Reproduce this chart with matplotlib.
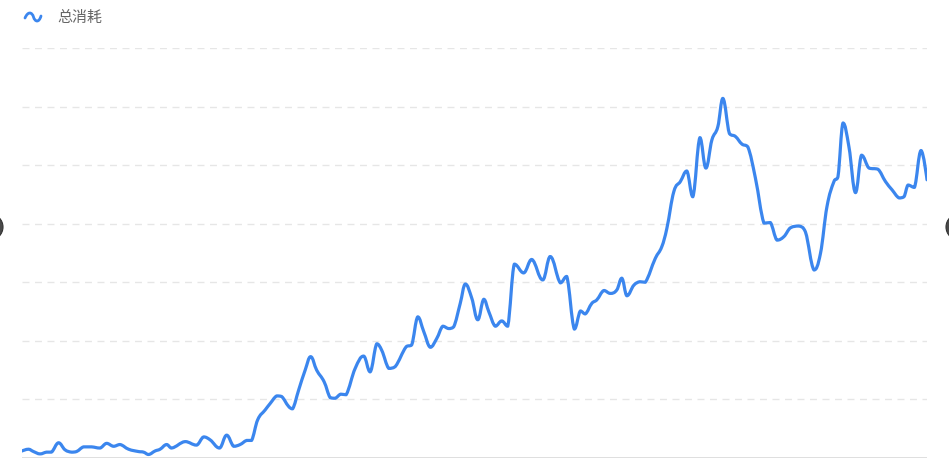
import matplotlib
matplotlib.use("Agg")
import matplotlib.pyplot as plt
from matplotlib.path import Path
from matplotlib.patches import PathPatch, Circle

plt.rcParams['font.family'] = ['Noto Sans CJK SC', 'DejaVu Sans']

# data (day index, total consumption)
series_name = "总消耗"
days = [0.0, 1.3, 2.3, 3.6, 4.9, 5.9, 7.3, 8.6, 9.9, 10.9, 12.3, 13.9, 15.6, 16.9, 18.3,
        19.6, 21.3, 23.3, 24.3, 25.3, 26.6, 27.6, 28.9, 29.9, 32.6, 34.9, 36.3, 37.6, 39.5,
        40.9, 42.3, 43.6, 44.9, 45.9, 47.1, 48.6, 49.6, 50.9, 51.9, 53.3, 54.1, 55.3, 56.6,
        57.7, 58.9, 60.4, 61.6, 62.6, 63.7, 64.8, 66.6, 68.3, 69.6, 70.9, 71.9, 73.3, 74.6,
        76.8, 77.9, 79.1, 80.3, 81.6, 82.9, 84.1, 85.3, 86.3, 87.6, 88.6, 89.9, 91.1, 92.3,
        93.3, 94.6, 95.9, 97.1, 98.4, 100.3, 101.9, 104.1, 105.6, 107.6, 108.9, 110.4, 111.6,
        112.6, 113.9, 114.9, 116.3, 117.6, 118.9, 119.9, 120.9, 122.3, 123.5, 124.6, 126.6,
        127.9, 128.9, 130.3, 131.6, 132.9, 134.1, 135.5, 136.7, 137.9, 139.1, 140.1, 141.4,
        142.6, 143.9, 145.1, 146.6, 148.3, 149.6, 150.9, 152.3, 153.6, 155.3, 156.6, 158.3,
        159.6, 160.9, 162.3, 163.1, 164.1, 165.3, 166.6, 167.8, 169.3, 171.1, 172.6, 173.9,
        175.3, 176.3, 177.1, 178.4, 179.7, 180.9]
values = [12, 15, 11, 7, 10, 10, 26, 14, 10, 11, 19, 19, 17, 25, 20,
          23, 15, 11, 10, 6, 12, 15, 23, 17, 28, 22, 36, 31, 17,
          39, 20, 23, 30, 30, 65, 82, 93, 106, 105, 88, 84, 116, 150,
          173, 150, 130, 103, 102, 109, 108, 153, 174, 147, 195, 184, 153, 156,
          190, 193, 241, 216, 189, 204, 225, 221, 224, 264, 297, 273, 236, 271,
          250, 225, 234, 225, 331, 316, 339, 304, 344, 299, 310, 220, 251,
          246, 264, 270, 286, 281, 287, 307, 277, 295, 301, 300, 341,
          361, 392, 455, 472, 490, 446, 547, 495, 543, 566, 614, 554,
          549, 536, 531, 478, 401, 402, 372, 378, 393, 396, 386, 321,
          349, 429, 472, 480, 572, 531, 453, 517, 495, 493, 472, 458,
          444, 446, 466, 462, 525, 475]
y_ticks = [0, 100, 200, 300, 400, 500, 600, 700]

LINE_COLOR = '#3b86ee'


def smooth_path(xs, ys, smooth=0.4):
    """Bezier path through the points, echarts-like smoothing without overshoot."""
    n = len(xs)
    cp_prev = [(xs[i], ys[i]) for i in range(n)]
    cp_next = [(xs[i], ys[i]) for i in range(n)]
    for i in range(1, n - 1):
        vx = xs[i + 1] - xs[i - 1]
        vy = ys[i + 1] - ys[i - 1]
        d0 = xs[i] - xs[i - 1]
        d1 = xs[i + 1] - xs[i]
        r0 = d0 / (d0 + d1)
        r1 = 1 - r0
        py = ys[i] - vy * smooth * r0
        ny = ys[i] + vy * smooth * r1
        py = min(max(py, min(ys[i - 1], ys[i])), max(ys[i - 1], ys[i]))
        ny = min(max(ny, min(ys[i + 1], ys[i])), max(ys[i + 1], ys[i]))
        cp_prev[i] = (xs[i] - vx * smooth * r0, py)
        cp_next[i] = (xs[i] + vx * smooth * r1, ny)
    verts = [(xs[0], ys[0])]
    codes = [Path.MOVETO]
    for i in range(n - 1):
        verts += [cp_next[i], cp_prev[i + 1], (xs[i + 1], ys[i + 1])]
        codes += [Path.CURVE4] * 3
    return Path(verts, codes)


fig = plt.figure(figsize=(9.49, 4.64), dpi=100)
ax = fig.add_axes([22 / 949, 5 / 464, 905 / 949, 410 / 464])

ax.set_xlim(days[0], days[-1])
ax.set_ylim(y_ticks[0], y_ticks[-1])

# dashed grid lines + solid baseline
for t in y_ticks[1:]:
    ax.axhline(t, color='#e6e6e6', lw=1.0, ls=(0, (5, 4)), zorder=1)
ax.axhline(0, color='#d9d9d9', lw=1.2, zorder=1)

ax.add_patch(PathPatch(smooth_path(days, values), facecolor='none', edgecolor=LINE_COLOR,
                       lw=2.3, capstyle='round', joinstyle='round', zorder=3))

for s in ax.spines.values():
    s.set_visible(False)
ax.set_xticks([])
ax.set_yticks([])
ax.patch.set_alpha(0)


# legend: wavy icon + label (figure pixel coordinates, y measured from the top)
def fp(x, y):
    return (x / 100.0, (464 - y) / 100.0)


wave = Path([fp(25, 19), fp(28, 12), fp(32, 13), fp(33.5, 18),
             fp(35, 23), fp(39, 24), fp(41, 17)],
            [Path.MOVETO, Path.CURVE4, Path.CURVE4, Path.CURVE4,
             Path.CURVE4, Path.CURVE4, Path.CURVE4])
fig.patches.append(PathPatch(wave, transform=fig.dpi_scale_trans, facecolor='none',
                             edgecolor=LINE_COLOR, lw=2.0, capstyle='round'))
fig.text(57 / 949, 1 - 18 / 464, series_name, fontsize=10.8, color='#666666',
         va='center', ha='left')

# partially visible scroll buttons at both edges
for cx in (-10, 959):
    fig.patches.append(Circle(fp(cx, 228), 0.13, transform=fig.dpi_scale_trans,
                              facecolor='#4a4a4a', edgecolor='#333333', lw=0.8))

fig.savefig('out.png', dpi=100)
